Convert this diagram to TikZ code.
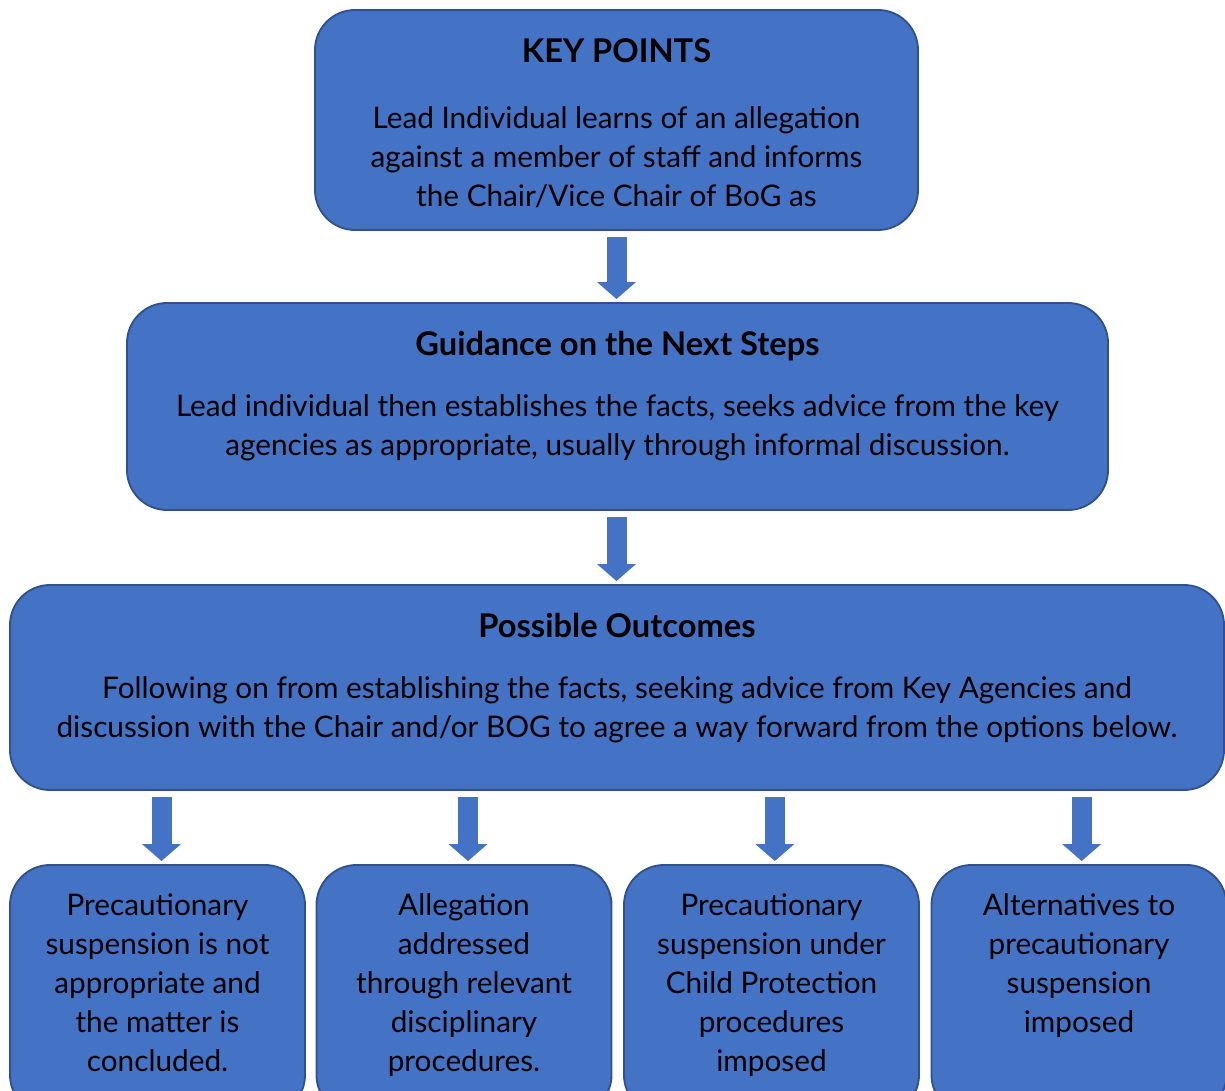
\documentclass[tikz,border=0pt]{standalone}
\usepackage{fontspec}
\setmainfont{Lato}
\usetikzlibrary{arrows.meta}
\definecolor{boxblue}{HTML}{4472C4}
\definecolor{boxedge}{HTML}{2F528F}
\tikzset{
  panel/.style={draw=boxedge,line width=1.4pt,fill=boxblue,rounded corners=30pt},
  words/.style={anchor=north,align=center,inner sep=0pt,font=\fontsize{22.3}{29.25}\selectfont},
  flow/.style={draw=boxblue,line width=15pt,-{Triangle[width=28.5pt,length=12.75pt]},
    shorten <=4.5pt,shorten >=2.25pt}
}
\newcommand\headfont{\fontsize{24.5}{29.25}\selectfont\bfseries}

\begin{document}
\begin{tikzpicture}[x=0.75pt,y=-0.75pt]
\useasboundingbox (0,0) rectangle (1225,1091);
\clip (0,0) rectangle (1225,1091);
% the three stacked panels
\node[panel,minimum width=452.25pt,minimum height=165pt] (key) at (616.5,120) {};
\node[panel,minimum width=735.75pt,minimum height=155.25pt] (guide) at (617.5,406.5) {};
\node[panel,minimum width=910.5pt,minimum height=153.75pt] (outcome) at (617,687.5) {};
% the four options
\foreach \n/\x in {1/157.5,2/464,3/771.5,4/1079}
  \node[panel,minimum width=221.25pt,minimum height=187.5pt] (opt\n) at (\x,990) {};
% texts
\node[words] (keytext) at ([yshift=-22pt]key.north) {{\headfont KEY POINTS}\\[20pt]
  Lead Individual learns of an allegation\\ against a member of staff and informs\\
  the Chair/Vice Chair of BoG as};
\node[words] (guidetext) at ([yshift=-22pt]guide.north) {{\headfont Guidance on the Next Steps}\\[16pt]
  Lead individual then establishes the facts, seeks advice from the key\\
  agencies as appropriate, usually through informal discussion.};
\node[words] (outcometext) at ([yshift=-22pt]outcome.north) {{\headfont Possible Outcomes}\\[16pt]
  Following on from establishing the facts, seeking advice from Key Agencies and\\
  discussion with the Chair and/or BOG to agree a way forward from the options below.};
\node[words] (opt1text) at ([yshift=-22pt]opt1.north) {Precautionary\\ suspension is not\\ appropriate and\\ the matter is\\ concluded.};
\node[words] (opt2text) at ([yshift=-22pt]opt2.north) {Allegation\\ addressed\\ through relevant\\ disciplinary\\ procedures.};
\node[words] (opt3text) at ([yshift=-22pt]opt3.north) {Precautionary\\ suspension under\\ Child Protection\\ procedures\\ imposed};
\node[words] (opt4text) at ([yshift=-22pt]opt4.north) {Alternatives to\\ precautionary\\ suspension\\ imposed};
% block arrows
\draw[flow] (key.south) -- (key.south |- guide.north);
\draw[flow] (guide.south -| key.south) -- (key.south |- outcome.north);
\foreach \n/\dx in {1/3,2/3,3/2.5,4/2}
  \draw[flow] ([xshift=\dx pt]outcome.south -| opt\n.north) -- ([xshift=\dx pt]opt\n.north);
\end{tikzpicture}
\end{document}
